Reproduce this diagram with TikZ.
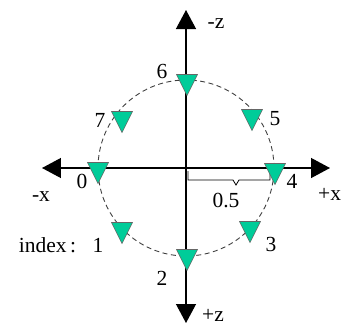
\documentclass[tikz,border=0pt]{standalone}
\usepackage{fontspec}
\setmainfont{Liberation Serif}
\usetikzlibrary{arrows.meta,positioning,shapes.geometric}
\definecolor{mint}{RGB}{0,204,153}
\tikzset{
  >={Triangle[length=19pt,width=20pt]},
  axis/.style={<->,line width=1.3pt,draw=black},
  ring/.style={draw=black!75,line width=0.9pt,dash pattern=on 5pt off 3.5pt},
  marker/.style={isosceles triangle,isosceles triangle stretches,shape border rotate=270,
    minimum width=21pt,minimum height=21pt,inner sep=0pt,fill=mint,draw=black!60,line width=0.6pt},
  tag/.style={font=\fontsize{21.5}{23}\selectfont,inner sep=0pt},
}

\begin{document}
\begin{tikzpicture}[x=1pt,y=1pt]
  \useasboundingbox (-186,-157) rectangle (156,168);
  % axes
  \coordinate (o) at (0,0);
  \coordinate (xl) at (-144,0);
  \coordinate (xr) at (144,0);
  \coordinate (zt) at (0,158);
  \coordinate (zb) at (0,-155);
  \draw[axis] (xl) -- (xr);
  \draw[axis] (zt) -- (zb);
  \node[tag] (mz) at (30,144) {-z};
  \node[tag] (pz) at (27,-147) {+z};
  \node[tag] (mx) at (-145,-29) {-x};
  \node[tag,anchor=west] (px) at (132,-26) {+x};
  % circle and radius brace
  \draw[ring] (o) circle (88);
  \draw[line width=0.8pt] (2,-3) -- (2,-12) -- (47,-12) -- (50,-17) -- (53,-12) -- (84,-12) -- (84,-3);
  \node[tag] (r) at (40,-32) {0.5};
  % markers
  \foreach \x/\y/\lx/\ly [count=\i from 0] in {
      -88/-1/-104/-13, -64/-61/-88/-77, 1/-88/-24/-110, 64/-60/85/-76,
      89/-2/106/-13, 66/52/89/49, 1/87/-24/97, -64/50/-86/48}
  {
    \node[marker] (m\i) at (\x,\y) {};
    \node[tag] (l\i) at (\lx,\ly) {\i};
  }
  \node[tag,anchor=base east] (idx) at ([xshift=-16pt]l1.base west) {index\,:};
\end{tikzpicture}
\end{document}
